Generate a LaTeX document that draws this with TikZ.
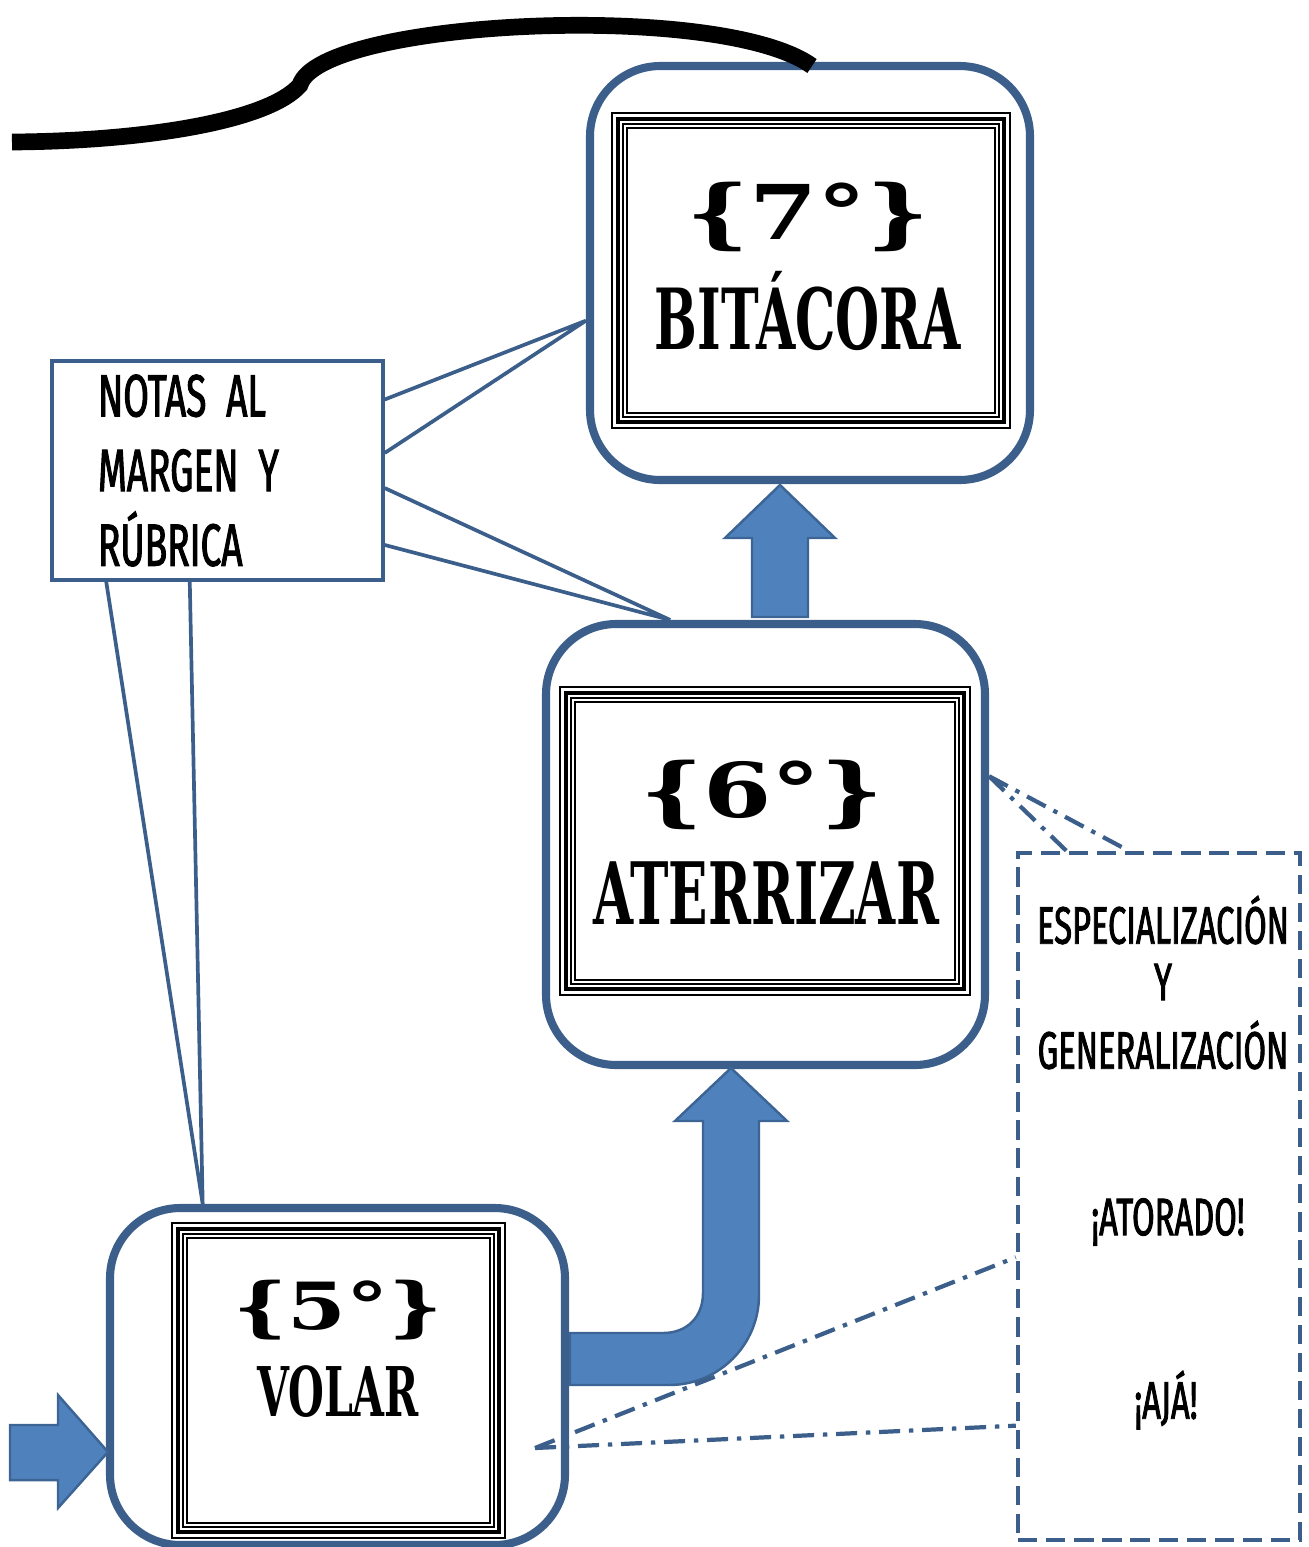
\documentclass[tikz,border=0pt]{standalone}
\usepackage{fontspec}
\usetikzlibrary{fit}

\newfontfamily\slabword[FakeStretch=0.6]{DejaVu Serif}
\newfontfamily\slabnum[FakeStretch=1.3]{DejaVu Serif}
\newfontfamily\condsans[FakeStretch=0.62,FakeBold=1.6]{Fira Sans}

\definecolor{boxblue}{HTML}{3B5F8A}
\definecolor{arrowfill}{HTML}{4F81BD}
\definecolor{arrowline}{HTML}{3C6494}

% frame of four black lines around the stage titles
\newcommand{\drawframe}[4]{%
  \draw[line width=1.1pt] (#1,#2) rectangle (#3,#4);
  \draw[line width=2.3pt] (#1+6,#2+6) rectangle (#3-6,#4-6);
  \draw[line width=0.8pt] (#1+11,#2+11) rectangle (#3-11,#4-11);
  \draw[line width=1.0pt] (#1+15,#2+15) rectangle (#3-15,#4-15);}

\begin{document}
\begin{tikzpicture}[x=0.2mm,y=-0.2mm,
        stage box/.style={draw=boxblue,line width=4.6pt,rounded corners=40pt,fill=white,inner sep=0pt},
        note box/.style={draw=boxblue,line width=2pt,inner sep=0pt},
        idea box/.style={draw=boxblue,line width=2.5pt,dash pattern=on 11pt off 5pt,inner sep=0pt},
        number text/.style={font=\slabnum\bfseries\fontsize{43}{50}\selectfont},
        title text/.style={font=\slabword\bfseries\fontsize{48}{55}\selectfont},
        side text/.style={font=\condsans\fontsize{30}{36}\selectfont},
        note line/.style={draw=boxblue,line width=2.1pt},
        hint line/.style={draw=boxblue,line width=2.4pt,dash pattern=on 12pt off 5pt on 2.5pt off 5pt},
        block arrow/.style={fill=arrowfill,draw=arrowline,line width=1.4pt,line join=miter}]
        \useasboundingbox (0,0) rectangle (1309,1547);

        % the three stages
        \node[stage box,fit={(590,66) (1030,480)}] (b7) {};
        \node[stage box,fit={(546,624) (985,1065)}] (b6) {};
        \node[stage box,fit={(110,1208) (565,1545)}] (b5) {};
        \drawframe{612}{113}{1010}{428}
        \drawframe{560}{687}{970}{995}
        \drawframe{172}{1223}{505}{1538}

        \node[number text] (num7) at (808,217) {\{7°\}};
        \node[title text] (name7) at (808,311) {BITÁCORA};
        \node[number text] (num6) at (762,795) {\{6°\}};
        \node[title text,font=\slabword\bfseries\fontsize{49}{56}\selectfont] (name6) at (766,893) {ATERRIZAR};
        \node[number text,font=\slabnum\bfseries\fontsize{37}{44}\selectfont] (num5) at (338,1310) {\{5°\}};
        \node[title text,font=\slabword\bfseries\fontsize{39}{46}\selectfont] (name5) at (338,1392) {VOLAR};

        % block arrows
        \draw[block arrow] (10,1425) -- (58,1425) -- (58,1395) -- (108,1452)
            -- (58,1508) -- (58,1480) -- (10,1480) -- cycle;
        \draw[block arrow] (570,1333) -- (663,1333) .. controls (687,1333) and (703,1317) .. (703,1293)
            -- (703,1121) -- (675,1121) -- (731,1068) -- (787,1121) -- (759,1121)
            -- (759,1295) .. controls (759,1345) and (719,1385) .. (669,1385) -- (570,1385) -- cycle;
        \draw[block arrow] (752,617) -- (752,538) -- (725,538) -- (780,485)
            -- (835,538) -- (808,538) -- (808,617) -- cycle;

        % notes
        \node[note box,minimum width=66.2mm,minimum height=43.8mm,text width=47.8mm,align=left,
            font=\condsans\fontsize{34}{42.5}\selectfont] (notas) at (217.5,470.5)
            {NOTAS AL\\MARGEN Y\\RÚBRICA};
        \path[note line]
        (notas.23.66) -- (b7.192.6)
        (notas.6.4) -- (b7.192.6)
        (notas.-6.7) -- (b6.113.9)
        (notas.-24.2) -- (b6.113.9)
        (notas.-135) -- (b5.128.8)
        (notas.-104.1) -- (b5.128.8);

        % ideas
        \node[idea box,fit={(1018,853) (1300,1540)}] (ideas) {};
        \node[side text] (esp) at (1163,920) {ESPECIALIZACIÓN};
        \node[side text] (yy) at (1163,982) {Y};
        \node[side text] (gen) at (1163,1045) {GENERALIZACIÓN};
        \node[side text] (atorado) at (1168,1222) {¡ATORADO!};
        \node[side text] (aja) at (1166,1400) {¡AJÁ!};
        \coordinate (c5) at (535,1448);
        \path[hint line]
        (b6.17.3) -- (ideas.105.8)
        (b6.17.3) -- (ideas.95.65)
        (c5) -- (ideas.203.6)
        (c5) -- (ideas.238.66);

        % rubric curve
        \draw[line width=9.5pt] (12,142) .. controls (150,141) and (270,120) .. (300,85)
            .. controls (320,20) and (720,0) .. (812,66);
\end{tikzpicture}
\end{document}
